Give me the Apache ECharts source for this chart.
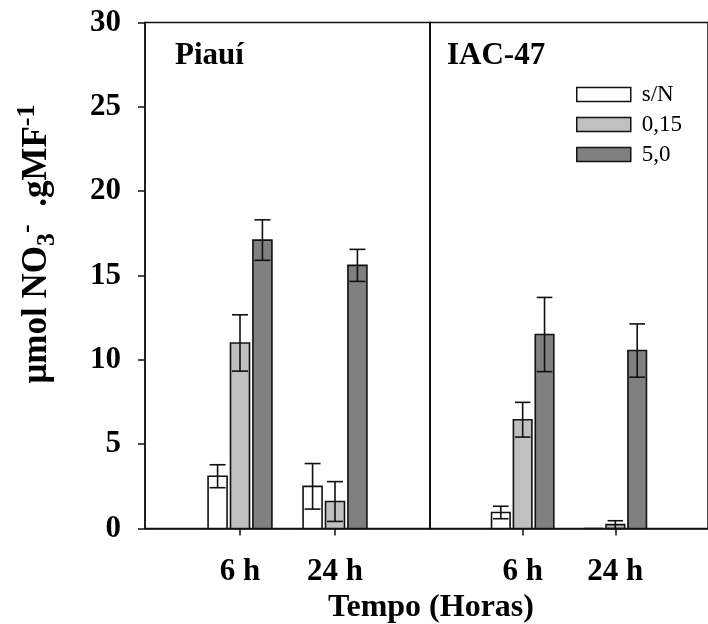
<!DOCTYPE html>
<html>
<head>
<meta charset="utf-8">
<script src="https://cdn.jsdelivr.net/npm/echarts@6/dist/echarts.min.js"></script>
<style>
  html, body { margin: 0; padding: 0; background: #fff; }
  #chart { width: 708px; height: 624px; }
</style>
</head>
<body>
<div id="chart"></div>
<script>
// Nitrate content by cultivar, sampling time and nitrogen dose
const cultivars = ['Piauí', 'IAC-47'];
const hours = ['6 h', '24 h'];
const hourPos = [1, 2];
const levels = ['s/N', '0,15', '5,0'];
const levelColors = ['#ffffff', '#c0c0c0', '#808080'];

// mean values [6 h, 24 h] per dose
const piauiMeans = [[3.1, 2.5], [11.0, 1.6], [17.1, 15.6]];
const piauiErrors = [[0.68, 1.35], [1.67, 1.18], [1.2, 0.95]];
const iacMeans = [[0.95, 0], [6.45, 0.23], [11.5, 10.55]];
const iacErrors = [[0.37, 0], [1.03, 0.23], [2.2, 1.58]];

const yTicks = [0, 5, 10, 15, 20, 25, 30];

const FONT = 'Liberation Serif';

function barRenderer(levelIndex) {
  return function (params, api) {
    const x = api.value(0);
    const y = api.value(1);
    const e = api.value(2);
    const unit = api.size([1, 0])[0];
    const w = unit * 0.2;
    const off = (levelIndex - 1) * unit * 0.236;
    const top = api.coord([x, y]);
    const base = api.coord([x, 0]);
    const cx = top[0] + off;
    const children = [{
      type: 'rect',
      shape: { x: cx - w / 2, y: top[1], width: w, height: base[1] - top[1] },
      style: { fill: levelColors[levelIndex], stroke: '#111', lineWidth: 1.6 }
    }];
    if (e > 0) {
      const hi = api.coord([x, y + e])[1];
      const lo = api.coord([x, y - e])[1];
      const cw = w * 0.42;
      const ls = { stroke: '#111', lineWidth: 1.6 };
      children.push(
        { type: 'line', shape: { x1: cx, y1: hi, x2: cx, y2: lo }, style: ls },
        { type: 'line', shape: { x1: cx - cw, y1: hi, x2: cx + cw, y2: hi }, style: ls },
        { type: 'line', shape: { x1: cx - cw, y1: lo, x2: cx + cw, y2: lo }, style: ls }
      );
    }
    return { type: 'group', children: children };
  };
}

function seriesFor(gridIndex, means, errors) {
  return levels.map(function (name, li) {
    return {
      type: 'custom',
      name: name,
      xAxisIndex: gridIndex,
      yAxisIndex: gridIndex,
      itemStyle: { color: levelColors[li], borderColor: '#111', borderWidth: 1.5 },
      renderItem: barRenderer(li),
      clip: false,
      data: hourPos.map(function (p, hi) { return [p, means[li][hi], errors[li][hi]]; })
    };
  });
}

const bold = { fontFamily: FONT, fontWeight: 'bold', fontSize: 31, color: '#000' };
const axisLineStyle = { lineStyle: { color: '#111', width: 1.5 } };

function xAxis(gridIndex) {
  return {
    type: 'value', gridIndex: gridIndex, min: 0, max: 3, interval: 1,
    axisLine: Object.assign({ show: true }, axisLineStyle),
    axisTick: { show: true, length: 7, inside: false, customValues: hourPos, lineStyle: { color: '#111', width: 1.5 } },
    axisLabel: Object.assign({
      show: true, margin: 28, customValues: hourPos,
      formatter: function (v) { return hours[hourPos.indexOf(v)] || ''; }
    }, bold),
    splitLine: { show: false }
  };
}

const option = {
  backgroundColor: '#fff',
  animation: false,
  grid: [
    { left: 145, right: 278, top: 22.5, bottom: 95.5, show: true, borderColor: '#111', borderWidth: 1.5 },
    { left: 430, right: -10, top: 22.5, bottom: 95.5, show: true, borderColor: '#111', borderWidth: 1.5 }
  ],
  xAxis: [xAxis(0), xAxis(1)],
  yAxis: [
    {
      type: 'value', gridIndex: 0, min: 0, max: 30, interval: 5,
      axisLine: Object.assign({ show: true }, axisLineStyle),
      axisTick: { show: true, length: 7, lineStyle: { color: '#111', width: 1.5 } },
      axisLabel: Object.assign({ margin: 24, customValues: yTicks }, bold),
      splitLine: { show: false }
    },
    {
      type: 'value', gridIndex: 1, min: 0, max: 30, interval: 5,
      axisLine: Object.assign({ show: true }, axisLineStyle),
      axisTick: { show: false },
      axisLabel: { show: false },
      splitLine: { show: false }
    }
  ],
  legend: {
    orient: 'vertical', left: 576, top: 83, padding: 0,
    itemWidth: 54, itemHeight: 14, itemGap: 7,
    icon: 'rect',
    selectedMode: false,
    textStyle: { fontFamily: FONT, fontSize: 23, color: '#000', padding: [0, 0, 0, 6] },
    data: levels.map(function (n, i) {
      return { name: n, itemStyle: { color: levelColors[i], borderColor: '#111', borderWidth: 1.5 } };
    })
  },
  graphic: [
    { type: 'text', left: 175, top: 40, style: { text: cultivars[0], font: 'bold 31px "Liberation Serif"', fill: '#000' } },
    { type: 'text', left: 447, top: 40, style: { text: cultivars[1], font: 'bold 31px "Liberation Serif"', fill: '#000' } },
    { type: 'text', x: 431, y: 608, style: { text: 'Tempo (Horas)', font: 'bold 32px "Liberation Serif"', fill: '#000', align: 'center', verticalAlign: 'middle' } },
    {
      type: 'text', x: 37, y: 244, rotation: Math.PI / 2,
      style: {
        text: '{n|μmol NO}{sub|3}{sup|-}{n|  .gMF}{sup|-1}',
        align: 'center', verticalAlign: 'middle', fill: '#000',
        rich: {
          n: { fontFamily: FONT, fontWeight: 'bold', fontSize: 35, lineHeight: 46, verticalAlign: 'middle' },
          sub: { fontFamily: FONT, fontWeight: 'bold', fontSize: 26, lineHeight: 46, verticalAlign: 'bottom' },
          sup: { fontFamily: FONT, fontWeight: 'bold', fontSize: 26, lineHeight: 46, verticalAlign: 'top' }
        }
      }
    }
  ],
  series: seriesFor(0, piauiMeans, piauiErrors).concat(seriesFor(1, iacMeans, iacErrors))
};

const chart = echarts.init(document.getElementById('chart'), null, { renderer: 'canvas' });
chart.setOption(option);
</script>
</body>
</html>
